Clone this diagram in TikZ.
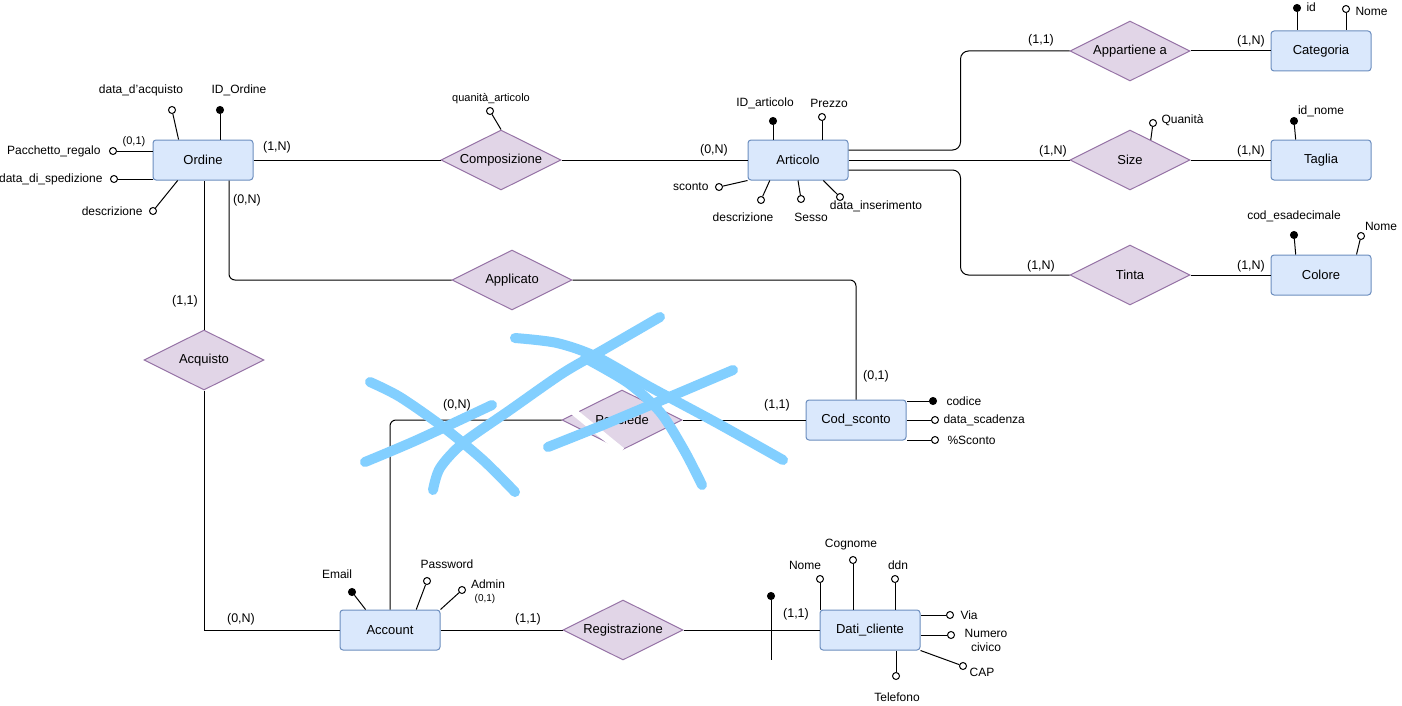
\documentclass[tikz,border=0pt]{standalone}
\usepackage{fontspec}
\setmainfont{Liberation Sans}
\usetikzlibrary{shapes.geometric}
\definecolor{entfill}{HTML}{DAE8FC}
\definecolor{entline}{HTML}{6C8EBF}
\definecolor{relfill}{HTML}{E1D5E7}
\definecolor{relline}{HTML}{9673A6}
\definecolor{scribble}{RGB}{130,207,255}

\begin{document}
\begin{tikzpicture}[
    x=1pt, y=-1pt,
    line width=1pt,
    entity/.style={rectangle, draw=entline, fill=entfill, rounded corners=3pt, minimum width=100pt, minimum height=40pt, font=\fontsize{13}{15}\selectfont},
    relation/.style={diamond, aspect=2, draw=relline, fill=relfill, minimum width=120pt, minimum height=60pt, inner sep=0pt, font=\fontsize{13}{15}\selectfont},
    attr/.style={circle, draw, fill=white, inner sep=0pt, minimum size=7pt},
    keyattr/.style={circle, draw, fill=black, inner sep=0pt, minimum size=7pt},
    lbl/.style={inner sep=0pt, font=\fontsize{12}{14}\selectfont},
    card/.style={inner sep=0pt, font=\fontsize{12.5}{14}\selectfont},
    small/.style={inner sep=0pt, font=\fontsize{11}{13}\selectfont},
    tiny/.style={inner sep=0pt, font=\fontsize{10}{12}\selectfont},
    scratch/.style={draw=scribble, line width=10pt, line cap=round, line join=round}
]
\useasboundingbox[fill=white] (0,0) rectangle (1402,706);

% Entities
\node[entity] (ordine) at (203,160) {Ordine};
\node[entity] (articolo) at (798,160) {Articolo};
\node[entity] (categoria) at (1321,51) {Categoria};
\node[entity] (taglia) at (1321,160) {Taglia};
\node[entity] (colore) at (1321,275) {Colore};
\node[entity] (codsconto) at (856,420) {Cod\_sconto};
\node[entity] (account) at (390,630) {Account};
\node[entity] (daticliente) at (870,630) {Dati\_cliente};

% Relationships
\node[relation] (composizione) at (501,160) {Composizione};
\node[relation] (applicato) at (512,280) {Applicato};
\node[relation] (acquisto) at (204,360) {Acquisto};
\node[relation] (possiede) at (622,420) {Possiede};
\node[relation] (registrazione) at (623,630) {Registrazione};
\node[relation] (appartiene) at (1130,51) {Appartiene a};
\node[relation] (size) at (1130,160) {Size};
\node[relation] (tinta) at (1130,275) {Tinta};

% Links
\draw (ordine.east) -- (composizione.west);
\draw (composizione.east) -- (articolo.west);
\draw (acquisto.north) -- (acquisto.north |- ordine.south);
\draw[rounded corners=6pt] ([xshift=26pt]ordine.south) |- (applicato.west);
\draw[rounded corners=6pt] (applicato.east) -| (codsconto.north);
\draw (acquisto.south) |- (account.west);
\draw[rounded corners=6pt] (account.north) |- (possiede.west);
\draw (possiede.east) -- (codsconto.west);
\draw (account.east) -- (registrazione.west);
\draw (registrazione.east) -- (daticliente.west);
\draw[rounded corners=8pt] ([yshift=10pt]articolo.east) -- ++(112,0) |- (appartiene.west);
\draw (articolo.east) -- (size.west);
\draw[rounded corners=8pt] ([yshift=-10pt]articolo.east) -- ++(112,0) |- (tinta.west);
\draw (appartiene.east) -- (categoria.west);
\draw (size.east) -- (taglia.west);
\draw (tinta.east) -- (colore.west);
\node[keyattr] (idcli) at (771,596) {};
\coordinate (idcliend) at (771,660);
\draw (idcli) -- (idcliend);

% Cardinalities
\node[card] (c1) at (277,147) {(1,N)};
\node[card] (c2) at (714,150) {(0,N)};
\node[card] (c3) at (247,200) {(0,N)};
\node[card] (c4) at (185,301) {(1,1)};
\node[card] (c5) at (241,619) {(0,N)};
\node[card] (c6) at (457,405) {(0,N)};
\node[card] (c7) at (777,405) {(1,1)};
\node[card] (c8) at (876,376) {(0,1)};
\node[card] (c9) at (528,619) {(1,1)};
\node[card] (c10) at (796,614) {(1,1)};
\node[card] (c11) at (1041,40) {(1,1)};
\node[card] (c12) at (1251,41) {(1,N)};
\node[card] (c13) at (1053,151) {(1,N)};
\node[card] (c14) at (1251,151) {(1,N)};
\node[card] (c15) at (1041,266) {(1,N)};
\node[card] (c16) at (1251,266) {(1,N)};
\node[small] (c17) at (134,142) {(0,1)};
\node[tiny] (c18) at (485,599) {(0,1)};

% Ordine attributes
\node[attr] (pacc) at (113,151) {};
\draw (pacc) -- (pacc -| ordine.west);
\node[lbl, anchor=east] (lpacc) at (101,151) {Pacchetto\_regalo};
\node[attr] (sped) at (114,179) {};
\draw (sped) -- (sped -| ordine.west);
\node[lbl, anchor=east] (lsped) at (103,179) {data\_di\_spedizione};
\node[attr] (descr) at (153,211) {};
\draw (descr) -- (ordine.219);
\node[lbl, anchor=east] (ldescr) at (143,211) {descrizione};
\node[attr] (dacq) at (172,110) {};
\draw (dacq) -- (ordine.140);
\node[lbl] (ldacq) at (141,90) {data\_d'acquisto};
\node[keyattr] (idord) at (220,110) {};
\draw (idord) -- (idord |- ordine.north);
\node[lbl] (lidord) at (239,90) {ID\_Ordine};

% Composizione attribute
\node[attr] (qart) at (490,111) {};
\draw (qart) -- (composizione.north);
\node[small] (lqart) at (491,99) {quanità\_articolo};

% Articolo attributes
\node[keyattr] (idart) at (773,121) {};
\draw (idart) -- (idart |- articolo.north);
\node[lbl] (lidart) at (765,103) {ID\_articolo};
\node[attr] (prezzo) at (822,117) {};
\draw (prezzo) -- (prezzo |- articolo.north);
\node[lbl] (lprezzo) at (829,103) {Prezzo};
\node[attr] (sconto) at (719,187) {};
\draw (sconto) -- (articolo.south west);
\node[lbl, anchor=east] (lsconto) at (709,187) {sconto};
\node[attr] (descrart) at (761,200) {};
\draw (descrart) -- (articolo.216);
\node[lbl] (ldescrart) at (743,217) {descrizione};
\node[attr] (sesso) at (801,199) {};
\draw (sesso) -- (articolo.south);
\node[lbl] (lsesso) at (811,217) {Sesso};
\node[attr] (dins) at (840,197) {};
\draw (dins) -- (articolo.-39);
\node[lbl] (ldins) at (876,206) {data\_inserimento};

% Categoria, Taglia, Colore attributes
\node[keyattr] (idcat) at (1297,8) {};
\draw (idcat) -- (idcat |- categoria.north);
\node[lbl, anchor=west] (lidcat) at (1306,7) {id};
\node[attr] (nomecat) at (1346,9) {};
\draw (nomecat) -- (nomecat |- categoria.north);
\node[lbl, anchor=west] (lnomecat) at (1355,11) {Nome};
\node[attr] (quan) at (1153,123) {};
\draw (quan) -- (size.44);
\node[lbl, anchor=west] (lquan) at (1161,120) {Quanità};
\node[keyattr] (idnome) at (1294,121) {};
\draw (idnome) -- (taglia.141);
\node[lbl] (lidnome) at (1321,111) {id\_nome};
\node[keyattr] (cesad) at (1294,235) {};
\draw (cesad) -- (colore.141);
\node[lbl] (lcesad) at (1294,216) {cod\_esadecimale};
\node[attr] (nomecol) at (1361,236) {};
\draw (nomecol) -- (colore.30);
\node[lbl] (lnomecol) at (1381,226) {Nome};

% Cod_sconto attributes
\node[keyattr] (codice) at (933,401) {};
\draw (codice) -- (codice -| codsconto.east);
\node[lbl, anchor=west] (lcodice) at (946,401) {codice};
\node[attr] (dscad) at (935,420) {};
\draw (dscad) -- (dscad -| codsconto.east);
\node[lbl, anchor=west] (ldscad) at (943,420) {data\_scadenza};
\node[attr] (psconto) at (935,440) {};
\draw (psconto) -- (psconto -| codsconto.east);
\node[lbl, anchor=west] (lpsconto) at (947,440) {\%Sconto};

% Account attributes
\node[keyattr] (email) at (352,592) {};
\draw (email) -- (account.140);
\node[lbl] (lemail) at (337,574) {Email};
\node[attr] (pwd) at (427,581) {};
\draw (pwd) -- (account.38);
\node[lbl] (lpwd) at (447,564) {Password};
\node[attr] (admin) at (462,590) {};
\draw (admin) -- (account.north east);
\node[lbl] (ladmin) at (488,584) {Admin};

% Dati_cliente attributes
\node[attr] (nome) at (820,579) {};
\draw (nome) -- (nome |- daticliente.north);
\node[lbl] (lnome) at (805,565) {Nome};
\node[attr] (cognome) at (853,560) {};
\draw (cognome) -- (cognome |- daticliente.north);
\node[lbl] (lcognome) at (851,545) {Cognome};
\node[attr] (ddn) at (895,579) {};
\draw (ddn) -- (ddn |- daticliente.north);
\node[lbl] (lddn) at (898,565) {ddn};
\node[attr] (via) at (950,615) {};
\draw (via) -- (via -| daticliente.east);
\node[lbl, anchor=west] (lvia) at (960,615) {Via};
\node[attr] (numciv) at (951,635) {};
\draw (numciv) -- (numciv -| daticliente.east);
\node[lbl, align=center] (lnumciv) at (986,640) {Numero\\civico};
\node[attr] (cap) at (963,666) {};
\draw (cap) -- (daticliente.south east);
\node[lbl] (lcap) at (982,672) {CAP};
\node[attr] (tel) at (896,676) {};
\draw (tel) -- (tel |- daticliente.south);
\node[lbl] (ltel) at (897,697) {Telefono};

% Crossed out Possiede
\draw[white, line width=7pt] (568,407) -- (622,451);
\draw[scratch] plot[smooth] coordinates {(370,382) (400,397) (443,427) (483,460) (515,492)};
\draw[scratch] plot[smooth] coordinates {(365,462) (417,440) (492,405)};
\draw[scratch] plot[smooth] coordinates {(433,490) (440,468) (463,443) (510,410) (563,373) (603,350) (660,317)};
\draw[scratch] plot[smooth] coordinates {(515,338) (557,343) (597,357) (650,387) (717,423) (783,460)};
\draw[scratch] plot[smooth] coordinates {(548,447) (603,425) (667,398) (733,370)};
\draw[scratch] plot[smooth] coordinates {(585,358) (628,383) (660,412) (684,450) (702,485)};

\end{tikzpicture}
\end{document}
